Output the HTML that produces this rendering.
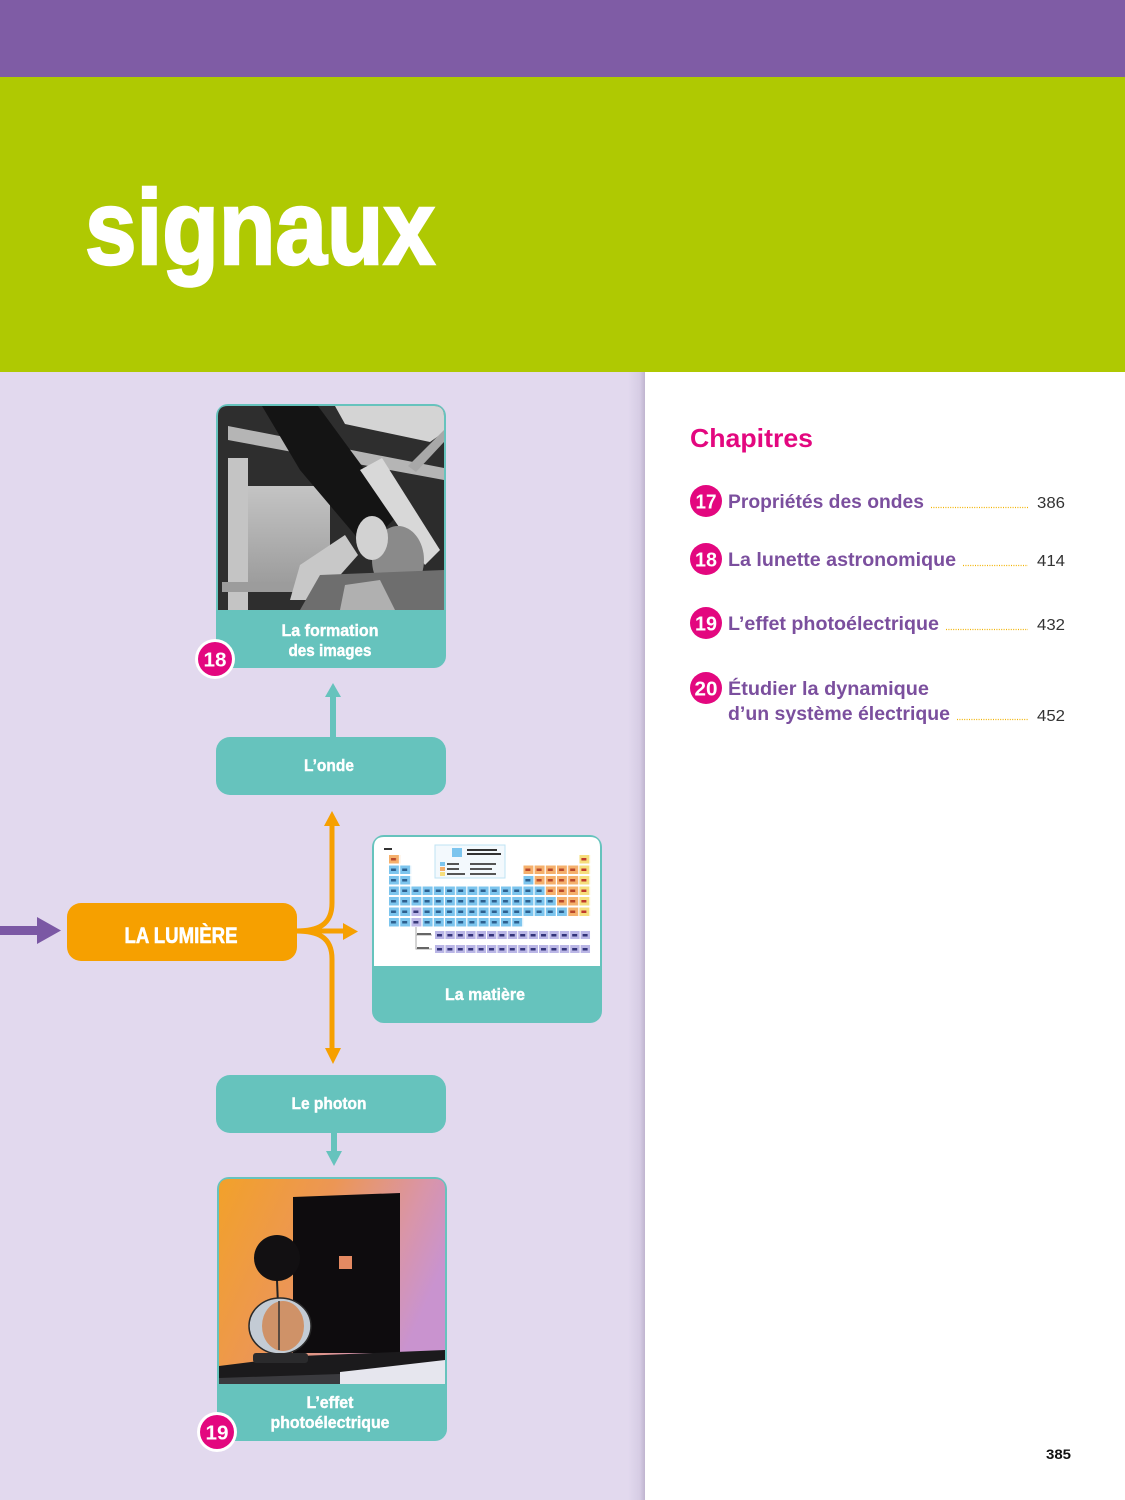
<!DOCTYPE html>
<html><head><meta charset="utf-8"><style>
html,body{margin:0;padding:0;background:#fff;}
svg{display:block;}
text{font-family:"Liberation Sans",sans-serif;}
</style></head><body>
<svg width="1125" height="1500" viewBox="0 0 1125 1500" xmlns="http://www.w3.org/2000/svg">
<defs>
<linearGradient id="edge" x1="0" x2="1" y1="0" y2="0">
<stop offset="0" stop-color="#e2d9ee"/><stop offset="0.7" stop-color="#d6cce4"/><stop offset="1" stop-color="#bfb4cf"/>
</linearGradient>
<linearGradient id="bgph" x1="0" y1="0" x2="1" y2="0.4">
<stop offset="0" stop-color="#f2a12a"/><stop offset="0.45" stop-color="#ec9655"/><stop offset="0.8" stop-color="#d995a8"/><stop offset="1" stop-color="#c993cf"/>
</linearGradient>
<linearGradient id="wall" x1="0" y1="0" x2="0" y2="1">
<stop offset="0" stop-color="#c4c4c4"/><stop offset="1" stop-color="#9a9a9a"/>
</linearGradient>
<clipPath id="c1"><path d="M228,406 H434 Q444,406 444,416 V610 H218 V416 Q218,406 228,406 Z"/></clipPath>
<clipPath id="c2"><path d="M229,1179 H435 Q445,1179 445,1189 V1384 H219 V1189 Q219,1179 229,1179 Z"/></clipPath>
<pattern id="pb" x="389" y="855" width="11.2" height="10.5" patternUnits="userSpaceOnUse"><rect width="10" height="8.5" fill="#7cc5ee"/><rect x="2" y="3" width="5" height="2.5" fill="#2d5f8e"/></pattern>
<pattern id="po" x="389" y="855" width="11.2" height="10.5" patternUnits="userSpaceOnUse"><rect width="10" height="8.5" fill="#f5b06c"/><rect x="2" y="3" width="5" height="2.5" fill="#b9472a"/></pattern>
<pattern id="py" x="389" y="855" width="11.2" height="10.5" patternUnits="userSpaceOnUse"><rect width="10" height="8.5" fill="#f6de7c"/><rect x="2" y="3" width="5" height="2.5" fill="#c0392b"/></pattern>
<pattern id="pl" x="389" y="855" width="11.2" height="10.5" patternUnits="userSpaceOnUse"><rect width="10" height="8.5" fill="#bcb8e8"/><rect x="2" y="3" width="5" height="2.5" fill="#3a3a7a"/></pattern>
<pattern id="pl3" x="435" y="931" width="10.4" height="14" patternUnits="userSpaceOnUse"><rect width="9.4" height="8" fill="#bab6e6"/><rect x="2" y="3" width="5" height="2.5" fill="#33337a"/></pattern>
</defs>

<!-- bands -->
<rect x="0" y="0" width="1125" height="77" fill="#7f5ca5"/>
<rect x="0" y="77" width="1125" height="295" fill="#afc902"/>
<rect x="0" y="372" width="645" height="1128" fill="#e2d9ee"/>
<rect x="628" y="372" width="17" height="1128" fill="url(#edge)"/>
<text x="85" y="264" font-size="106" font-weight="bold" fill="#ffffff" stroke="#ffffff" stroke-width="2.5" textLength="350" lengthAdjust="spacingAndGlyphs">signaux</text>

<!-- right column -->
<text x="690" y="447" font-size="26" font-weight="bold" fill="#e3077f" textLength="123" lengthAdjust="spacingAndGlyphs">Chapitres</text>

<g font-weight="bold">
<circle cx="706" cy="501" r="16" fill="#e3077f"/>
<text x="706" y="508.5" font-size="20" fill="#fff" text-anchor="middle" textLength="21" lengthAdjust="spacingAndGlyphs">17</text>
<text x="728" y="508" font-size="19.5" fill="#7b4f9e" textLength="196" lengthAdjust="spacingAndGlyphs">Propriétés des ondes</text>

<circle cx="706" cy="559" r="16" fill="#e3077f"/>
<text x="706" y="566.5" font-size="20" fill="#fff" text-anchor="middle" textLength="22" lengthAdjust="spacingAndGlyphs">18</text>
<text x="728" y="566" font-size="19.5" fill="#7b4f9e" textLength="228" lengthAdjust="spacingAndGlyphs">La lunette astronomique</text>

<circle cx="706" cy="623" r="16" fill="#e3077f"/>
<text x="706" y="630.5" font-size="20" fill="#fff" text-anchor="middle" textLength="22" lengthAdjust="spacingAndGlyphs">19</text>
<text x="728" y="630" font-size="19.5" fill="#7b4f9e" textLength="211" lengthAdjust="spacingAndGlyphs">L’effet photoélectrique</text>

<circle cx="706" cy="688" r="16" fill="#e3077f"/>
<text x="706" y="695.5" font-size="20" fill="#fff" text-anchor="middle" textLength="23" lengthAdjust="spacingAndGlyphs">20</text>
<text x="728" y="695" font-size="19.5" fill="#7b4f9e" textLength="201" lengthAdjust="spacingAndGlyphs">Étudier la dynamique</text>
<text x="728" y="720" font-size="19.5" fill="#7b4f9e" textLength="222" lengthAdjust="spacingAndGlyphs">d’un système électrique</text>
</g>

<g stroke="#f2b200" stroke-width="1.2" stroke-dasharray="1 1.4">
<line x1="931" y1="507.5" x2="1028" y2="507.5"/>
<line x1="963" y1="565.5" x2="1028" y2="565.5"/>
<line x1="946" y1="629.5" x2="1028" y2="629.5"/>
<line x1="957" y1="719.5" x2="1028" y2="719.5"/>
</g>
<g font-size="16" fill="#333">
<text x="1037" y="508" textLength="28" lengthAdjust="spacingAndGlyphs">386</text>
<text x="1037" y="566" textLength="28" lengthAdjust="spacingAndGlyphs">414</text>
<text x="1037" y="630" textLength="28" lengthAdjust="spacingAndGlyphs">432</text>
<text x="1037" y="721" textLength="28" lengthAdjust="spacingAndGlyphs">452</text>
</g>
<text x="1046" y="1459" font-size="14" font-weight="bold" fill="#111" textLength="25" lengthAdjust="spacingAndGlyphs">385</text>

<!-- Card 18 -->
<rect x="216" y="404" width="230" height="264" rx="12" fill="#66c3bd"/>
<g clip-path="url(#c1)">
<rect x="218" y="406" width="226" height="204" fill="#2e2e2e"/>
<polygon points="335,406 444,406 444,432 430,442 345,424" fill="#d4d4d4"/>
<polygon points="228,426 444,468 444,480 228,440" fill="#b5b5b5"/>
<polygon points="444,430 444,442 416,472 408,466" fill="#a8a8a8"/>
<rect x="245" y="486" width="88" height="104" fill="url(#wall)"/>
<rect x="228" y="458" width="20" height="152" fill="#c4c4c4"/>
<rect x="222" y="582" width="120" height="10" fill="#9c9c9c"/>
<rect x="330" y="480" width="114" height="130" fill="#2c2c2c"/>
<polygon points="262,406 318,406 398,515 366,548 300,470" fill="#141414"/>
<polygon points="360,470 382,458 440,550 425,565" fill="#d8d8d8"/>
<ellipse cx="398" cy="560" rx="26" ry="34" fill="#8a8a8a"/>
<ellipse cx="372" cy="538" rx="16" ry="22" fill="#d2d2d2"/>
<polygon points="300,565 345,535 358,555 318,600 290,600" fill="#c8c8c8"/>
<polygon points="320,575 444,570 444,610 300,610" fill="#6e6e6e"/>
<polygon points="345,585 380,580 395,610 340,610" fill="#b0b0b0"/>
</g>
<circle cx="215" cy="659" r="20" fill="#fff"/>
<circle cx="215" cy="659" r="17" fill="#e3077f"/>
<text x="215" y="666.5" font-size="20" font-weight="bold" fill="#fff" text-anchor="middle" textLength="23" lengthAdjust="spacingAndGlyphs">18</text>
<g font-weight="bold" fill="#fff" stroke="#fff" stroke-width="0.4" font-size="17" text-anchor="middle">
<text x="330" y="636" textLength="97" lengthAdjust="spacingAndGlyphs">La formation</text>
<text x="330" y="656" textLength="83" lengthAdjust="spacingAndGlyphs">des images</text>
</g>

<!-- teal arrow up -->
<line x1="333" y1="737" x2="333" y2="695" stroke="#66c3bd" stroke-width="6"/>
<polygon points="325,697 341,697 333,683" fill="#66c3bd"/>

<!-- L'onde -->
<rect x="216" y="737" width="230" height="58" rx="14" fill="#66c3bd"/>
<text x="329" y="771" font-size="17" font-weight="bold" fill="#fff" stroke="#fff" stroke-width="0.4" text-anchor="middle" textLength="50" lengthAdjust="spacingAndGlyphs">L’onde</text>

<!-- purple arrow -->
<rect x="0" y="926" width="40" height="9" fill="#7b58a4"/>
<polygon points="37,917 61,930.5 37,944" fill="#7b58a4"/>

<!-- La lumière -->
<rect x="67" y="903" width="230" height="58" rx="14" fill="#f6a000"/>
<text x="181" y="943" font-size="22" font-weight="bold" fill="#fff" stroke="#fff" stroke-width="0.6" text-anchor="middle" textLength="113" lengthAdjust="spacingAndGlyphs">LA LUMIÈRE</text>

<!-- orange connectors -->
<g stroke="#f6a000" stroke-width="5" fill="none">
<path d="M296,931 C318,931 332,925 332,903 L332,824"/>
<path d="M296,931 C318,931 332,937 332,959 L332,1050"/>
<path d="M296,931 L345,931"/>
</g>
<polygon points="324,826 340,826 332,811" fill="#f6a000"/>
<polygon points="325,1048 341,1048 333,1064" fill="#f6a000"/>
<polygon points="343,923 343,940 358,931.5" fill="#f6a000"/>

<!-- La matière card -->
<rect x="372" y="835" width="230" height="188" rx="12" fill="#66c3bd"/>
<path d="M384,837 H590 Q600,837 600,847 V966 H374 V847 Q374,837 384,837 Z" fill="#ffffff"/>
<rect x="435" y="845" width="70" height="33" fill="#f3f9fd" stroke="#bfe3f3" stroke-width="1"/>
<rect x="452" y="848" width="10" height="9" fill="#7cc5ee"/>
<rect x="467" y="849" width="30" height="2" fill="#333"/><rect x="467" y="853" width="34" height="2" fill="#333"/>
<rect x="440" y="862" width="5" height="4" fill="#7cc5ee"/><rect x="440" y="867" width="5" height="4" fill="#f5b06c"/><rect x="440" y="872" width="5" height="4" fill="#f6de7c"/>
<rect x="447" y="863" width="12" height="2" fill="#555"/><rect x="447" y="868" width="12" height="2" fill="#555"/><rect x="447" y="873" width="18" height="2" fill="#555"/>
<rect x="470" y="863" width="26" height="2" fill="#555"/><rect x="470" y="868" width="22" height="2" fill="#555"/><rect x="470" y="873" width="26" height="2" fill="#555"/>
<rect x="384" y="848" width="8" height="2" fill="#333"/>
<!-- row1 -->
<rect x="389" y="855" width="11.2" height="8.5" fill="url(#po)"/>
<rect x="579.4" y="855" width="11.2" height="8.5" fill="url(#py)"/>
<!-- row2 -->
<rect x="389" y="865.5" width="22.4" height="8.5" fill="url(#pb)"/>
<rect x="523.4" y="865.5" width="56" height="8.5" fill="url(#po)"/>
<rect x="579.4" y="865.5" width="11.2" height="8.5" fill="url(#py)"/>
<!-- row3 -->
<rect x="389" y="876" width="22.4" height="8.5" fill="url(#pb)"/>
<rect x="523.4" y="876" width="11.2" height="8.5" fill="url(#pb)"/>
<rect x="534.6" y="876" width="44.8" height="8.5" fill="url(#po)"/>
<rect x="579.4" y="876" width="11.2" height="8.5" fill="url(#py)"/>
<!-- row4 -->
<rect x="389" y="886.5" width="156.8" height="8.5" fill="url(#pb)"/>
<rect x="545.8" y="886.5" width="33.6" height="8.5" fill="url(#po)"/>
<rect x="579.4" y="886.5" width="11.2" height="8.5" fill="url(#py)"/>
<!-- row5 -->
<rect x="389" y="897" width="168" height="8.5" fill="url(#pb)"/>
<rect x="557" y="897" width="22.4" height="8.5" fill="url(#po)"/>
<rect x="579.4" y="897" width="11.2" height="8.5" fill="url(#py)"/>
<!-- row6 -->
<rect x="389" y="907.5" width="22.4" height="8.5" fill="url(#pb)"/>
<rect x="411.4" y="907.5" width="11.2" height="8.5" fill="url(#pl)"/>
<rect x="422.6" y="907.5" width="145.6" height="8.5" fill="url(#pb)"/>
<rect x="568.2" y="907.5" width="11.2" height="8.5" fill="url(#po)"/>
<rect x="579.4" y="907.5" width="11.2" height="8.5" fill="url(#py)"/>
<!-- row7 -->
<rect x="389" y="918" width="22.4" height="8.5" fill="url(#pb)"/>
<rect x="411.4" y="918" width="11.2" height="8.5" fill="url(#pl)"/>
<rect x="422.6" y="918" width="100.8" height="8.5" fill="url(#pb)"/>
<!-- lanthanides -->
<rect x="435" y="931" width="156" height="8" fill="url(#pl3)"/>
<rect x="435" y="945" width="156" height="8" fill="url(#pl3)"/>
<path d="M416,927 V949 H432 M416,935 H432" stroke="#aaa" stroke-width="1" fill="none"/>
<rect x="417" y="933" width="14" height="2" fill="#666"/><rect x="417" y="947" width="12" height="2" fill="#666"/>
<text x="485" y="1000" font-size="17" font-weight="bold" fill="#fff" stroke="#fff" stroke-width="0.4" text-anchor="middle" textLength="80" lengthAdjust="spacingAndGlyphs">La matière</text>

<!-- Le photon -->
<rect x="216" y="1075" width="230" height="58" rx="14" fill="#66c3bd"/>
<text x="329" y="1109" font-size="17" font-weight="bold" fill="#fff" stroke="#fff" stroke-width="0.4" text-anchor="middle" textLength="75" lengthAdjust="spacingAndGlyphs">Le photon</text>

<!-- teal arrow down -->
<line x1="334" y1="1132" x2="334" y2="1153" stroke="#66c3bd" stroke-width="6"/>
<polygon points="326,1151 342,1151 334,1166" fill="#66c3bd"/>

<!-- Card 19 -->
<rect x="217" y="1177" width="230" height="264" rx="12" fill="#66c3bd"/>
<g clip-path="url(#c2)">
<rect x="219" y="1179" width="226" height="205" fill="url(#bgph)"/>
<polygon points="293,1197 400,1193 400,1353 293,1353" fill="#0e0c0e"/>
<rect x="339" y="1256" width="13" height="13" fill="#e48a62"/>
<line x1="277" y1="1280" x2="278" y2="1305" stroke="#222" stroke-width="2"/>
<circle cx="277" cy="1258" r="23" fill="#121012"/>
<ellipse cx="280" cy="1326" rx="31" ry="28" fill="#c3cbd4"/>
<ellipse cx="283" cy="1326" rx="21" ry="25" fill="#cf9268"/>
<ellipse cx="280" cy="1326" rx="31" ry="28" fill="none" stroke="#2a2a2a" stroke-width="1.5"/>
<line x1="279" y1="1301" x2="279" y2="1350" stroke="#333" stroke-width="1.5"/>
<polygon points="219,1366 300,1356 445,1350 445,1384 219,1384" fill="#1b1a1c"/>
<rect x="253" y="1353" width="55" height="10" rx="3" fill="#2a2a2c"/>
<polygon points="340,1372 445,1360 445,1384 340,1384" fill="#e6e6ee"/>
<polygon points="219,1378 340,1374 340,1384 219,1384" fill="#3a3a3e"/>
</g>
<circle cx="217" cy="1432" r="20" fill="#fff"/>
<circle cx="217" cy="1432" r="17" fill="#e3077f"/>
<text x="217" y="1439.5" font-size="20" font-weight="bold" fill="#fff" text-anchor="middle" textLength="23" lengthAdjust="spacingAndGlyphs">19</text>
<g font-weight="bold" fill="#fff" stroke="#fff" stroke-width="0.4" font-size="17" text-anchor="middle">
<text x="330" y="1408" textLength="47" lengthAdjust="spacingAndGlyphs">L’effet</text>
<text x="330" y="1428" textLength="119" lengthAdjust="spacingAndGlyphs">photoélectrique</text>
</g>
</svg>
</body></html>
